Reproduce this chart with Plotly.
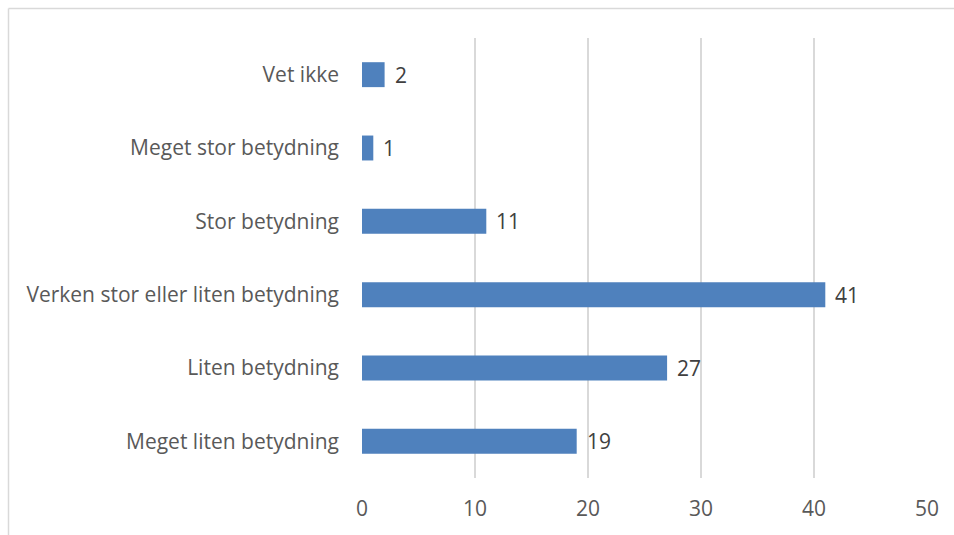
import plotly.graph_objects as go

# Survey answers, bottom to top
categories = [
    "Meget liten betydning",
    "Liten betydning",
    "Verken stor eller liten betydning",
    "Stor betydning",
    "Meget stor betydning",
    "Vet ikke",
]
values = [19, 27, 41, 11, 1, 2]
x_ticks = [0, 10, 20, 30, 40, 50]

W, H = 954, 535
ML, MR, MT, MB = 362, 27, 38, 57
pw, ph = W - ML - MR, H - MT - MB

font_family = "Open Sans, sans-serif"
fsize = 21

fig = go.Figure(
    go.Bar(
        y=categories,
        x=values,
        orientation="h",
        marker=dict(color="#4F81BD", line=dict(width=0)),
        width=0.34,
        hoverinfo="skip",
    )
)

# Value labels just right of each bar end
for cat, v in zip(categories, values):
    fig.add_annotation(
        x=v, y=cat, text=str(v), showarrow=False,
        xanchor="left", yanchor="middle", xshift=8,
        font=dict(family=font_family, size=fsize, color="#404040"),
    )

# Thin frame around the chart area (top and left edges visible)
edge_x = (8.5 - ML) / pw
edge_y = (H - MB - 8.5) / ph
fig.add_shape(type="line", xref="paper", yref="paper",
              x0=edge_x, x1=1.2, y0=edge_y, y1=edge_y,
              line=dict(color="#D9D9D9", width=1.5))
fig.add_shape(type="line", xref="paper", yref="paper",
              x0=edge_x, x1=edge_x, y0=edge_y, y1=-0.3,
              line=dict(color="#D9D9D9", width=1.5))

fig.update_layout(
    width=W,
    height=H,
    margin=dict(l=ML, r=MR, t=MT, b=MB),
    paper_bgcolor="white",
    plot_bgcolor="white",
    showlegend=False,
    font=dict(family=font_family, size=fsize, color="#595959"),
    xaxis=dict(
        range=[0, 50],
        tickvals=x_ticks,
        ticktext=[str(t) for t in x_ticks],
        showgrid=True,
        gridcolor="#D9D9D9",
        gridwidth=1.5,
        zeroline=False,
        showline=False,
        ticks="",
        ticklabelstandoff=16,
        tickfont=dict(family=font_family, size=fsize, color="#595959"),
        fixedrange=True,
    ),
    yaxis=dict(
        categoryorder="array",
        categoryarray=categories,
        showgrid=False,
        zeroline=False,
        showline=False,
        ticks="",
        ticklabelstandoff=22,
        tickfont=dict(family=font_family, size=fsize, color="#595959"),
        fixedrange=True,
    ),
)

fig.write_html("out.html")
